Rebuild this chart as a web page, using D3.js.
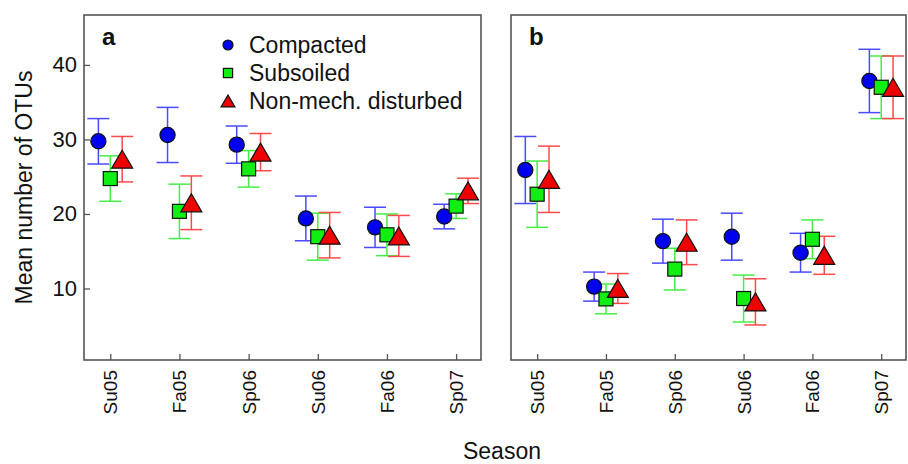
<!DOCTYPE html>
<html><head><meta charset="utf-8">
<script src="https://cdn.jsdelivr.net/npm/d3@7"></script>
<style>body{margin:0;background:#fff}svg{display:block;font-family:"Liberation Sans",Arial,sans-serif}</style>
</head><body>
<svg id="c" width="908" height="464"></svg>
<script>
const seasons = ["Su05","Fa05","Sp06","Su06","Fa06","Sp07"];
const seriesNames = ["Compacted","Subsoiled","Non-mech. disturbed"];
const yTicks = [10,20,30,40];
// Panel a
const aCompactedMean = [29.75,30.6,29.3,19.4,18.2,19.65];
const aCompactedErr  = [3.05,3.7,2.5,3.0,2.7,1.65];
const aSubsoiledMean = [24.75,20.35,26.05,16.95,17.2,21.05];
const aSubsoiledErr  = [3.05,3.65,2.45,3.15,2.8,1.65];
const aNonMechMean   = [27.35,21.5,28.3,17.15,17.05,23.1];
const aNonMechErr    = [3.05,3.6,2.5,3.05,2.75,1.7];
// Panel b
const bCompactedMean = [25.9,10.25,16.35,16.95,14.8,37.85];
const bCompactedErr  = [4.5,1.95,2.95,3.15,2.6,4.25];
const bSubsoiledMean = [22.65,8.6,12.6,8.65,16.6,37.0];
const bSubsoiledErr  = [4.45,2.0,2.8,3.15,2.6,4.2];
const bNonMechMean   = [24.65,10.0,16.2,8.2,14.45,37.0];
const bNonMechErr    = [4.45,2.0,3.0,3.1,2.55,4.2];

const svg = d3.select("#c");
const plotTop = 15, plotBottom = 360;
const y = d3.scaleLinear().domain([0.4,46.7]).range([plotBottom, plotTop]);
const markerFill = ["#0000ee","#11ee11","#ee0000"];
const barColor = ["#4a4aff","#44ee44","#ff4a4a"];
const offsets = [-0.172, 0, 0.172];
const frameColor = "#555";

const panels = [
  {label:"a", x0:84, x1:481, means:[aCompactedMean,aSubsoiledMean,aNonMechMean], errs:[aCompactedErr,aSubsoiledErr,aNonMechErr], yAxis:true, legend:true},
  {label:"b", x0:511, x1:906, means:[bCompactedMean,bSubsoiledMean,bNonMechMean], errs:[bCompactedErr,bSubsoiledErr,bNonMechErr], yAxis:false, legend:false}
];

function drawMarker(g, k, cx, cy, s) {
  if (k===0) {
    g.append("circle").attr("cx",cx).attr("cy",cy).attr("r",7.6*s)
      .attr("fill",markerFill[0]).attr("stroke","#111").attr("stroke-width",1.2);
  } else if (k===1) {
    const h = 7*s;
    g.append("rect").attr("x",cx-h).attr("y",cy-h).attr("width",2*h).attr("height",2*h)
      .attr("fill",markerFill[1]).attr("stroke","#111").attr("stroke-width",1.2);
  } else {
    const w = 10.5*s, hh = 9*s;
    g.append("path").attr("d",`M${cx},${cy-hh}L${cx+w},${cy+hh}L${cx-w},${cy+hh}Z`)
      .attr("fill",markerFill[2]).attr("stroke","#111").attr("stroke-width",1.2).attr("stroke-linejoin","miter");
  }
}

panels.forEach(p => {
  const x = d3.scaleLinear().domain([-0.38,5.36]).range([p.x0,p.x1]);
  const g = svg.append("g");
  const xAxis = d3.axisBottom(x).tickValues(d3.range(seasons.length)).tickSize(-6).tickFormat(()=> "");
  const gx = g.append("g").attr("transform",`translate(0,${plotBottom})`).call(xAxis);
  gx.select(".domain").remove();
  gx.selectAll(".tick line").attr("stroke",frameColor).attr("stroke-width",1.3);
  g.selectAll(".xl").data(seasons).enter().append("text")
    .attr("transform",(d,i)=>`translate(${x(i)+7},${plotBottom+10}) rotate(-90)`)
    .attr("text-anchor","end").attr("font-size",19).attr("fill","#111").text(d=>d);
  if (p.yAxis) {
    const yAxis = d3.axisLeft(y).tickValues(yTicks).tickSize(-6).tickPadding(8).tickFormat(d3.format("d"));
    const gy = g.append("g").attr("transform",`translate(${p.x0},0)`).call(yAxis);
    gy.select(".domain").remove();
    gy.selectAll(".tick line").attr("stroke",frameColor).attr("stroke-width",1.3);
    gy.selectAll(".tick text").attr("font-size",22).attr("fill","#111").attr("font-family","Liberation Sans, Arial, sans-serif").attr("x",-7);
  }
  g.append("rect").attr("x",p.x0).attr("y",plotTop).attr("width",p.x1-p.x0).attr("height",plotBottom-plotTop)
    .attr("fill","none").attr("stroke",frameColor).attr("stroke-width",1.6);
  g.append("text").attr("x",p.x0+18).attr("y",45).attr("font-size",24).attr("font-weight","bold").attr("fill","#111").text(p.label);
  for (let k=0;k<3;k++) {
    const gb = g.append("g");
    p.means[k].forEach((m,i)=>{
      const cx = x(i+offsets[k]);
      const e = p.errs[k][i];
      const y1 = y(m+e), y2 = y(m-e);
      gb.append("line").attr("x1",cx).attr("x2",cx).attr("y1",y1).attr("y2",y2).attr("stroke",barColor[k]).attr("stroke-width",1.5);
      [y1,y2].forEach(yy=>gb.append("line").attr("x1",cx-11).attr("x2",cx+11).attr("y1",yy).attr("y2",yy).attr("stroke",barColor[k]).attr("stroke-width",1.5));
    });
  }
  for (let k=0;k<3;k++) {
    const gm = g.append("g");
    p.means[k].forEach((m,i)=> drawMarker(gm,k,x(i+offsets[k]),y(m),1));
  }
  if (p.legend) {
    const lg = g.append("g");
    seriesNames.forEach((n,k)=>{
      const ly = 45 + k*28;
      drawMarker(lg,k,228,ly,0.66);
      lg.append("text").attr("x",249).attr("y",ly+8).attr("font-size",23).attr("fill","#111").text(n);
    });
  }
});
svg.append("text").attr("transform",`translate(32,${(plotTop+plotBottom)/2}) rotate(-90)`).attr("text-anchor","middle")
  .attr("font-size",23).attr("fill","#111").text("Mean number of OTUs");
svg.append("text").attr("x",502).attr("y",459).attr("text-anchor","middle").attr("font-size",23).attr("fill","#111").text("Season");
</script>
</body></html>
